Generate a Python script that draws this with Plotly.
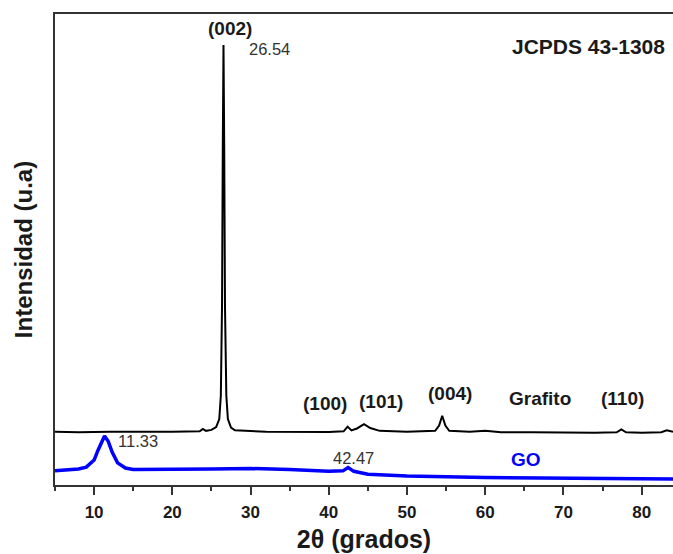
import plotly.graph_objects as go

# Grafito (black) XRD pattern
graf_2theta = [5, 8, 12, 16, 20, 23.5, 23.9, 24.3, 25.0, 25.6, 26.0, 26.2, 26.35, 26.45,
               26.54, 26.63, 26.73, 26.9, 27.1, 27.5, 28, 32, 36, 40, 41.9, 42.4, 42.9,
               43.6, 44.5, 45.3, 46.5, 50, 53.6, 54.1, 54.5, 54.9, 55.4, 58, 60, 62, 66,
               70, 74, 76.8, 77.4, 78.0, 80, 82.5, 83.2, 84]
graf_int = [11.3, 11.2, 11.3, 11.25, 11.3, 11.4, 11.9, 11.5, 11.7, 12.3, 14.0, 19, 38, 72,
            93.4, 72, 38, 19, 14, 12.2, 11.6, 11.3, 11.2, 11.25, 11.4, 12.4, 11.6,
            12.0, 12.9, 12.1, 11.5, 11.3, 11.5, 12.6, 14.7, 12.6, 11.5, 11.3, 11.5, 11.2, 11.2,
            11.1, 11.1, 11.2, 11.8, 11.2, 11.1, 11.2, 11.6, 11.3]

# GO (blue) XRD pattern
go_2theta = [5, 8, 9, 10, 10.5, 11.0, 11.33, 11.8, 12.3, 13, 14, 15, 20, 25, 30, 35, 40,
             41.8, 42.47, 43.2, 45, 50, 60, 70, 84]
go_int = [3.0, 3.4, 3.8, 5.3, 7.4, 9.5, 10.4, 9.3, 7.0, 4.7, 3.6, 3.3, 3.3, 3.4, 3.5, 3.3, 2.9,
          3.0, 3.7, 2.9, 2.3, 1.9, 1.6, 1.4, 1.3]

x_ticks = [10, 20, 30, 40, 50, 60, 70, 80]
x_tick_labels = ["10", "20", "30", "40", "50", "60", "70", "80"]

FONT = "Liberation Sans"
TXT = "#1a1a1a"

fig = go.Figure()
fig.add_trace(go.Scatter(x=graf_2theta, y=graf_int, mode="lines",
                         line=dict(color="black", width=2), showlegend=False))
fig.add_trace(go.Scatter(x=go_2theta, y=go_int, mode="lines",
                         line=dict(color="#0000ff", width=3.5), showlegend=False))

def label(x, y, text, size=19, bold=True, color=TXT, xanchor="center"):
    fig.add_annotation(x=x, y=y, xref="x", yref="y", text=f"<b>{text}</b>" if bold else text,
                       showarrow=False, xanchor=xanchor, yanchor="middle",
                       font=dict(family=FONT, size=size, color=color))

label(27.4, 97.0, "(002)", size=19)
label(29.6, 92.6, "26.54", size=16.5, bold=False, color="#333333", xanchor="left")
label(83.2, 93.2, "JCPDS 43-1308", size=21, xanchor="right")
label(39.5, 17.4, "(100)")
label(46.7, 17.8, "(101)")
label(55.5, 19.5, "(004)")
label(67.0, 18.3, "Grafito")
label(77.5, 18.3, "(110)")
label(12.8, 9.3, "11.33", size=16.5, bold=False, color="#333333", xanchor="left")
label(43.2, 5.7, "42.47", size=16.5, bold=False, color="#333333")
label(65.2, 5.5, "GO", size=19, color="#0000ff")

fig.update_layout(
    width=673, height=554,
    margin=dict(l=55, r=0, t=14, b=69),
    plot_bgcolor="white", paper_bgcolor="white",
    xaxis=dict(range=[5, 84], showgrid=False, zeroline=False,
               showline=True, linecolor="#333333", linewidth=2, mirror=True,
               ticks="outside", ticklen=8, tickwidth=2, tickcolor="#333333",
               tickvals=x_ticks, ticktext=[f"<b>{t}</b>" for t in x_tick_labels],
               ticklabelstandoff=3,
               tickfont=dict(family=FONT, size=17, color=TXT),
               minor=dict(ticks="outside", ticklen=4, tickwidth=2, tickcolor="#333333", dtick=5, tick0=5),
               title=dict(text="<b>2θ (grados)</b>", font=dict(family=FONT, size=25, color=TXT), standoff=9)),
    yaxis=dict(range=[0, 100], showgrid=False, zeroline=False, showticklabels=False,
               showline=True, linecolor="#333333", linewidth=2, ticks="",
               title=dict(text="<b>Intensidad (u.a)</b>", font=dict(family=FONT, size=24, color=TXT), standoff=14)),
)

fig.write_html("out.html")
